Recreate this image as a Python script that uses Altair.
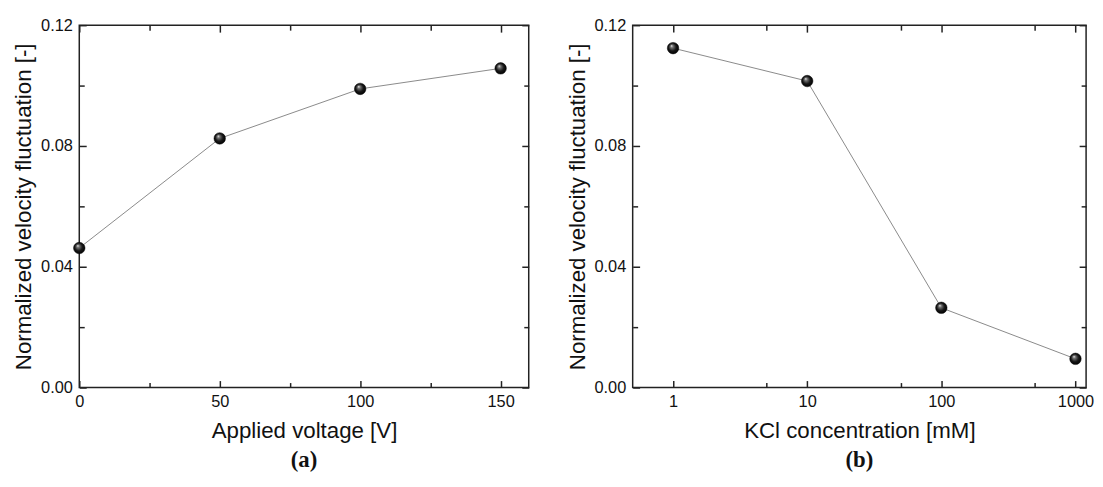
import altair as alt
import pandas as pd

# ---- data ----
voltage = [0, 50, 100, 150]
fluct_voltage = [0.0462, 0.0825, 0.0989, 0.1057]

kcl = [1, 10, 100, 1000]
fluct_kcl = [0.1124, 0.1015, 0.0264, 0.0095]

y_major = [0.0, 0.04, 0.08, 0.12]
y_minor = [0.02, 0.06, 0.10]
x_major_a = [0, 50, 100, 150]
x_minor_a = [25, 75, 125]
x_major_b = [1, 10, 100, 1000]
x_minor_b = [5, 50, 500]

FONT = "Liberation Sans"
MAJ = 7
MIN = 5
TICK_COLOR = "#222222"

ball_fill = alt.Gradient(
    gradient="radial",
    x1=0.36, y1=0.3, r1=0.0,
    x2=0.5, y2=0.5, r2=0.55,
    stops=[
        alt.GradientStop(color="#ffffff", offset=0.0),
        alt.GradientStop(color="#7a7a7a", offset=0.2),
        alt.GradientStop(color="#161616", offset=0.6),
        alt.GradientStop(color="#000000", offset=1.0),
    ],
)


def make_axis(orient, values, size, labels=False, title=None, fmt=None):
    kw = dict(
        orient=orient, values=values, tickSize=size, offset=-size,
        domain=False, grid=False, ticks=True, tickColor=TICK_COLOR,
        tickWidth=1.5, labels=labels, title=title, labelFlush=False,
        labelOverlap=False,
    )
    if labels:
        kw.update(labelFont=FONT, labelFontSize=16.5, labelColor="#111111")
        if orient in ("left", "right"):
            kw.update(labelPadding=7)
        else:
            kw.update(labelPadding=6)
        if fmt:
            kw["format"] = fmt
    if title:
        kw.update(titleFont=FONT, titleFontSize=22.5, titleFontWeight="normal",
                  titleColor="#111111")
        kw["titlePadding"] = 5 if orient in ("left", "right") else 10
    return alt.Axis(**kw)


def panel(xs, ys, xscale, xmaj, xmin, xtitle, xfmt, label, width):
    df = pd.DataFrame({"x": xs, "y": ys})
    yscale = alt.Scale(domain=[0, 0.12], nice=False, zero=False)
    base = alt.Chart(df)

    def enc(xaxis, yaxis):
        return dict(
            x=alt.X("x:Q", scale=xscale, axis=xaxis),
            y=alt.Y("y:Q", scale=yscale, axis=yaxis),
        )

    line = base.mark_line(color="#8a8a8a", strokeWidth=1).encode(
        **enc(
            make_axis("bottom", xmaj, MAJ, labels=True, title=xtitle, fmt=xfmt),
            make_axis("left", y_major, MAJ, labels=True,
                      title="Normalized velocity fluctuation [-]", fmt=".2f"),
        )
    )
    minor1 = base.mark_point(opacity=0).encode(
        **enc(make_axis("bottom", xmin, MIN), make_axis("left", y_minor, MIN))
    )
    minor2 = base.mark_point(opacity=0).encode(
        **enc(make_axis("top", xmin, MIN), make_axis("right", y_minor, MIN))
    )
    balls = base.mark_point(
        filled=True, fill=ball_fill, size=135, opacity=1,
        stroke="#000000", strokeWidth=0.5, shape="circle",
    ).encode(**enc(make_axis("top", xmaj, MAJ), make_axis("right", y_major, MAJ)))

    return (
        alt.layer(line, minor1, minor2, balls)
        .resolve_axis(x="independent", y="independent")
        .properties(
            width=width, height=366,
            title=alt.TitleParams(
                text=label, orient="bottom", anchor="middle", frame="group",
                font="Liberation Serif", fontSize=23, fontWeight="bold",
                offset=7, color="#111111",
            ),
        )
    )


left = panel(
    voltage, fluct_voltage,
    alt.Scale(domain=[0, 160], nice=False, zero=False),
    x_major_a, x_minor_a, "Applied voltage [V]", "d", "(a)", 454,
)
right = panel(
    kcl, fluct_kcl,
    alt.Scale(type="log", domain=[0.5, 1200], nice=False),
    x_major_b, x_minor_b, "KCl concentration [mM]", "d", "(b)", 458,
)

chart = (
    alt.hconcat(left, right, spacing=35)
    .properties(padding={"left": 4, "top": 6, "right": 0, "bottom": 1})
    .configure_view(stroke="#222222", strokeWidth=1.5)
)

chart.save("out.html", embed_options={"renderer": "svg", "actions": False})
